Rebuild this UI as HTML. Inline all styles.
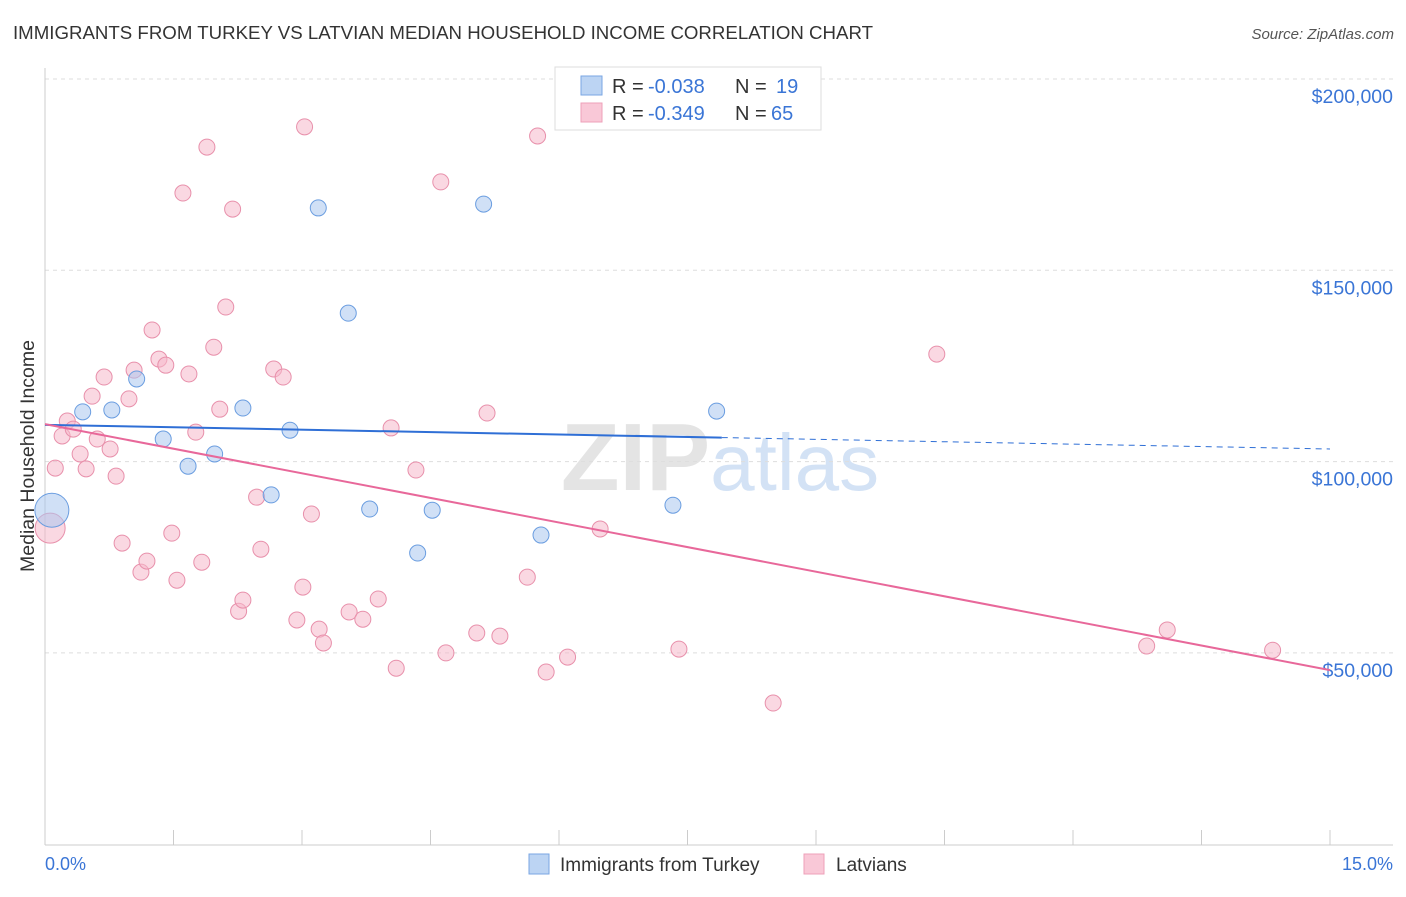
<!DOCTYPE html>
<html><head><meta charset="utf-8"><style>
body{margin:0;background:#fff;font-family:"Liberation Sans",sans-serif;}
svg text{font-family:"Liberation Sans",sans-serif;}
</style></head><body>
<svg id="chart" width="1406" height="892" viewBox="0 0 1406 892" xmlns="http://www.w3.org/2000/svg">
<text x="13" y="39" font-size="18" fill="#333" textLength="860" lengthAdjust="spacingAndGlyphs">IMMIGRANTS FROM TURKEY VS LATVIAN MEDIAN HOUSEHOLD INCOME CORRELATION CHART</text>
<text x="1394" y="39" font-size="15" fill="#555" text-anchor="end" font-style="italic">Source: ZipAtlas.com</text>
<text x="720" y="490" font-size="96" text-anchor="middle" fill="#e4e4e4" font-family="Liberation Serif" font-weight="bold">ZIP<tspan fill="#d3e2f5" font-family="Liberation Sans" font-weight="normal" font-size="80">atlas</tspan></text>
<g id="grid"></g>
<g id="yticks"></g>
<line x1="45" y1="68" x2="45" y2="845" stroke="#ccc"/>
<line x1="45" y1="845" x2="1393" y2="845" stroke="#ccc"/>
<g id="xticks"></g>
<text x="45" y="870" font-size="18" fill="#3a75d6">0.0%</text>
<text x="1393" y="870" font-size="18" fill="#3a75d6" text-anchor="end">15.0%</text>
<text transform="translate(34,456) rotate(-90)" font-size="19.5" fill="#333" text-anchor="middle">Median Household Income</text>
<g id="points"></g>
<g id="trends"></g>
<g>
<rect x="555" y="67" width="266" height="63" fill="#fff" stroke="#ddd"/>
<rect x="581" y="76" width="21" height="19" fill="#bcd4f3" stroke="#7aa6e3"/>
<rect x="581" y="103" width="21" height="19" fill="#f9c8d7" stroke="#eea0b9"/>
<text x="612" y="93" font-size="20" fill="#333">R =</text>
<text x="648" y="93" font-size="20" fill="#3a75d6">-0.038</text>
<text x="735" y="93" font-size="20" fill="#333">N =</text>
<text x="776" y="93" font-size="20" fill="#3a75d6">19</text>
<text x="612" y="120" font-size="20" fill="#333">R =</text>
<text x="648" y="120" font-size="20" fill="#3a75d6">-0.349</text>
<text x="735" y="120" font-size="20" fill="#333">N =</text>
<text x="771" y="120" font-size="20" fill="#3a75d6">65</text>
</g>
<g>
<rect x="529" y="854" width="20" height="20" fill="#bcd4f3" stroke="#7aa6e3"/>
<text x="560" y="871" font-size="19" fill="#333">Immigrants from Turkey</text>
<rect x="804" y="854" width="20" height="20" fill="#f9c8d7" stroke="#eea0b9"/>
<text x="836" y="871" font-size="19" fill="#333">Latvians</text>
</g>
</svg>
<script>
const yTicks=[50000,100000,150000,200000];
const yTickLabels=["$50,000","$100,000","$150,000","$200,000"];
const turkeyX=[0.08,0.44,0.78,1.07,1.38,1.67,1.98,2.31,2.64,2.86,3.19,3.54,3.79,4.35,4.52,5.12,5.79,7.33,7.84];
const turkeyY=[87300,113000,113500,121600,105900,98800,102000,114000,91300,108200,166300,138800,87600,76100,87300,167300,80800,88600,113200];
const turkeyR=[17,8,8,8,8,8,8,8,8,8,8,8,8,8,8,8,8,8,8];
const latvX=[0.06,0.12,0.20,0.26,0.33,0.41,0.48,0.55,0.61,0.69,0.76,0.83,0.90,0.98,1.04,1.12,1.19,1.25,1.33,1.41,1.48,1.54,1.61,1.68,1.76,1.83,1.89,1.97,2.04,2.11,2.19,2.26,2.31,2.47,2.52,2.67,2.78,2.94,3.01,3.03,3.11,3.20,3.25,3.55,3.71,3.89,4.04,4.10,4.33,4.62,4.68,5.04,5.16,5.31,5.63,5.75,5.85,6.10,6.48,7.40,8.50,10.41,12.86,13.10,14.33];
const latvY=[82600,98300,106700,110600,108500,102000,98100,117100,105900,122100,103300,96200,78700,116400,123900,71100,74000,134400,126800,125200,81300,69000,170200,122900,107700,73700,182200,129900,113700,140400,166000,60900,63800,90700,77100,124200,122100,58600,67200,187500,86300,56200,52600,60700,58800,64100,108800,46000,97800,173100,50000,55200,112700,54400,69800,185100,45000,48900,82400,51000,36900,128100,51800,56000,50700];
const turkeyTrend=[109600,103300];
const latvTrend=[109800,45500];
const turkeySolidEnd=7.9;
const X=v=>45+v/15*1285;
const Y=v=>79+(200000-v)/50000*191.3;
const NS="http://www.w3.org/2000/svg";
function mk(tag,attrs,parent){const e=document.createElementNS(NS,tag);for(const k in attrs)e.setAttribute(k,attrs[k]);parent.appendChild(e);return e;}
const grid=document.getElementById('grid'),yt=document.getElementById('yticks'),xt=document.getElementById('xticks');
yTicks.forEach((v,i)=>{
 const l=mk('line',{x1:45,x2:1393,y1:Y(v),y2:Y(v),stroke:'#ddd','stroke-dasharray':'4,4'},grid);
 
 
 const t=mk('text',{x:1393,y:Y(v)+24,'font-size':19.5,fill:'#3a75d6','text-anchor':'end'},yt);
 t.textContent=yTickLabels[i];
 
 
});
for(let i=0;i<=10;i++){
 const l=mk('line',{x1:X(i*1.5),x2:X(i*1.5),y1:830,y2:845,stroke:'#ccc'},xt);
 
 
}
const pts=document.getElementById('points');
latvX.forEach((x,i)=>{
 const c=mk('circle',{cx:X(x),cy:Y(latvY[i]),r:i==0?15:8,fill:'#f5b8cb','fill-opacity':0.55,stroke:'#e890ab','stroke-width':1},pts);
 
 
});
turkeyX.forEach((x,i)=>{
 const c=mk('circle',{cx:X(x),cy:Y(turkeyY[i]),r:turkeyR[i],fill:'#a9c6ee','fill-opacity':0.55,stroke:'#6a9de0','stroke-width':1},pts);
 
 
});
const tr=document.getElementById('trends');
const ty=x=>turkeyTrend[0]+(turkeyTrend[1]-turkeyTrend[0])*x/15;
let a=mk('line',{x1:X(0),y1:Y(ty(0)),x2:X(turkeySolidEnd),y2:Y(ty(turkeySolidEnd)),stroke:'#2f6fd6','stroke-width':2},tr);


let b=mk('line',{x1:X(turkeySolidEnd),y1:Y(ty(turkeySolidEnd)),x2:X(15),y2:Y(ty(15)),stroke:'#2f6fd6','stroke-width':1,'stroke-dasharray':'6,5'},tr);


let c2=mk('line',{x1:X(0),y1:Y(latvTrend[0]),x2:X(15),y2:Y(latvTrend[1]),stroke:'#e8689a','stroke-width':2},tr);


</script>
</body></html>
